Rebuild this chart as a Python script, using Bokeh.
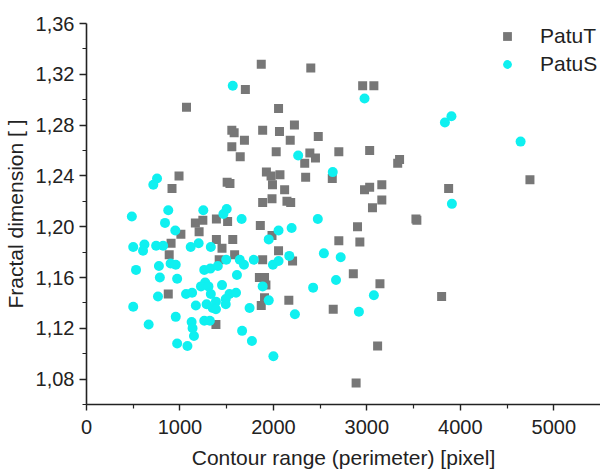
from bokeh.plotting import figure
from bokeh.models import Range1d, FixedTicker, CustomJSTickFormatter, Legend, LegendItem
from bokeh.embed import file_html
from bokeh.resources import INLINE

# ---- data ----
patut_x = [1870, 2400, 1700, 2955, 3075, 1070, 2055, 2225, 1555, 1580,
           1885, 2065, 2480, 1690, 2180, 1555, 2030, 2390, 2700, 3030,
           1645, 2450, 2335, 3350, 3330, 1925, 1975, 2070, 2345, 2630,
           990, 915, 1505, 1535, 1990, 2120, 2975, 3030, 3160, 3875,
           4745, 1885, 1985, 2145, 2185, 3160, 3060, 1165, 1245, 1390,
           1510, 1205, 1010, 1860, 1985, 2055, 2900, 3525, 3535, 905,
           1390, 1565, 1450, 885, 1585, 1420, 1885, 2205, 2700, 2925,
           1850, 1905, 1920, 2855, 3140, 3800, 875, 1905, 1870, 2165,
           2640, 1385, 3115, 2885]
patut_y = [1.328, 1.325, 1.308, 1.311, 1.311, 1.294, 1.293, 1.280, 1.276, 1.274,
           1.276, 1.275, 1.271, 1.268, 1.268, 1.263, 1.259, 1.258, 1.259, 1.260,
           1.255, 1.254, 1.250, 1.253, 1.250, 1.243, 1.240, 1.241, 1.239, 1.238,
           1.240, 1.230, 1.235, 1.234, 1.233, 1.229, 1.229, 1.231, 1.233, 1.230,
           1.237, 1.219, 1.222, 1.220, 1.219, 1.221, 1.215, 1.203, 1.205, 1.206,
           1.204, 1.196, 1.194, 1.201, 1.193, 1.181, 1.200, 1.206, 1.205, 1.187,
           1.190, 1.190, 1.183, 1.178, 1.178, 1.174, 1.174, 1.173, 1.189, 1.188,
           1.160, 1.160, 1.154, 1.163, 1.155, 1.145, 1.147, 1.144, 1.138, 1.142,
           1.135, 1.123, 1.106, 1.077]

patus_x = [1565, 2975, 3905, 3835, 4645, 2265, 2635, 755, 715, 3910,
           485, 875, 840, 950, 1250, 1500, 1465, 1660, 2475, 2055,
           2195, 1950, 500, 620, 605, 745, 820, 1115, 1200, 1330,
           1495, 1640, 1685, 1790, 1995, 2055, 2170, 2540, 2720, 530,
           775, 900, 955, 785, 970, 1260, 1325, 1405, 1610, 1270,
           1225, 1305, 1450, 1885, 2425, 2670, 3075, 1065, 1130, 1330,
           765, 1530, 1600, 1490, 1385, 1285, 1170, 1350, 1385, 1490,
           500, 1745, 1950, 2230, 2915, 955, 665, 1125, 1135, 1150,
           1260, 1320, 1665, 1770, 970, 1080, 2000]
patus_y = [1.311, 1.301, 1.287, 1.282, 1.267, 1.256, 1.243, 1.238, 1.233, 1.218,
           1.208, 1.213, 1.203, 1.197, 1.213, 1.214, 1.210, 1.206, 1.206, 1.197,
           1.199, 1.190, 1.184, 1.186, 1.181, 1.185, 1.185, 1.184, 1.187, 1.184,
           1.174, 1.174, 1.170, 1.174, 1.170, 1.173, 1.177, 1.179, 1.176, 1.166,
           1.169, 1.171, 1.170, 1.160, 1.159, 1.166, 1.167, 1.169, 1.162, 1.156,
           1.153, 1.153, 1.154, 1.153, 1.152, 1.158, 1.146, 1.147, 1.148, 1.147,
           1.145, 1.147, 1.148, 1.143, 1.141, 1.139, 1.138, 1.136, 1.135, 1.139,
           1.137, 1.136, 1.142, 1.131, 1.133, 1.129, 1.123, 1.125, 1.120, 1.114,
           1.126, 1.126, 1.118, 1.110, 1.108, 1.106, 1.098]

x_ticks = [0, 1000, 2000, 3000, 4000, 5000]
x_minor = [500, 1500, 2500, 3500, 4500]
y_ticks = [1.08, 1.12, 1.16, 1.20, 1.24, 1.28, 1.32, 1.36]
y_minor = [1.06, 1.10, 1.14, 1.18, 1.22, 1.26, 1.30, 1.34]

series_names = ["PatuT", "PatuS"]
x_label = "Contour range (perimeter) [pixel]"
y_label = "Fractal dimension [ ]"

FONT = "Liberation Sans"
AX = "#222222"

p = figure(width=600, height=473, output_backend="svg", toolbar_location=None,
           x_range=Range1d(0, 5500), y_range=Range1d(1.06, 1.36))
p.min_border_left = 86
p.min_border_right = 0
p.min_border_top = 23
p.min_border_bottom = 69
p.outline_line_color = None
p.grid.visible = False
p.background_fill_color = "white"

p.xaxis.ticker = FixedTicker(ticks=x_ticks, minor_ticks=x_minor)
p.yaxis.ticker = FixedTicker(ticks=y_ticks, minor_ticks=y_minor)
p.yaxis.formatter = CustomJSTickFormatter(code="return tick.toFixed(2).replace('.', ',');")

for ax in (p.xaxis[0], p.yaxis[0]):
    ax.axis_line_color = AX
    ax.axis_line_width = 1.6
    ax.major_tick_line_color = AX
    ax.major_tick_line_width = 1.4
    ax.minor_tick_line_color = AX
    ax.minor_tick_line_width = 1.2
    ax.major_tick_in = 0
    ax.minor_tick_in = 0
    ax.major_label_text_font = FONT
    ax.major_label_text_font_size = "20px"
    ax.major_label_text_color = AX
    ax.axis_label_text_font = FONT
    ax.axis_label_text_font_size = "21px"
    ax.axis_label_text_font_style = "normal"
    ax.axis_label_text_color = AX

p.xaxis.major_tick_out = 6
p.xaxis.minor_tick_out = 4
p.yaxis.major_tick_out = 7
p.yaxis.minor_tick_out = 4
p.xaxis.major_label_standoff = 9
p.yaxis.major_label_standoff = 5
p.xaxis.axis_label_standoff = 9
p.yaxis.axis_label_standoff = 6
p.xaxis.axis_label = x_label
p.yaxis.axis_label = y_label

r_t = p.scatter(patut_x, patut_y, marker="square", size=9,
                fill_color="#777777", line_color=None)
r_s = p.scatter(patus_x, patus_y, marker="circle", size=10,
                fill_color="#0ff0f0", line_color=None)

legend = Legend(items=[LegendItem(label=series_names[0], renderers=[r_t]),
                       LegendItem(label=series_names[1], renderers=[r_s])],
                location=(410, 327),
                border_line_color=None, background_fill_alpha=0,
                padding=0, margin=0, spacing=2,
                glyph_width=22, glyph_height=26, label_standoff=22,
                label_text_font=FONT, label_text_font_size="21px",
                label_text_color=AX)
p.add_layout(legend, "center")

open("out.html", "w").write(file_html(p, INLINE))
